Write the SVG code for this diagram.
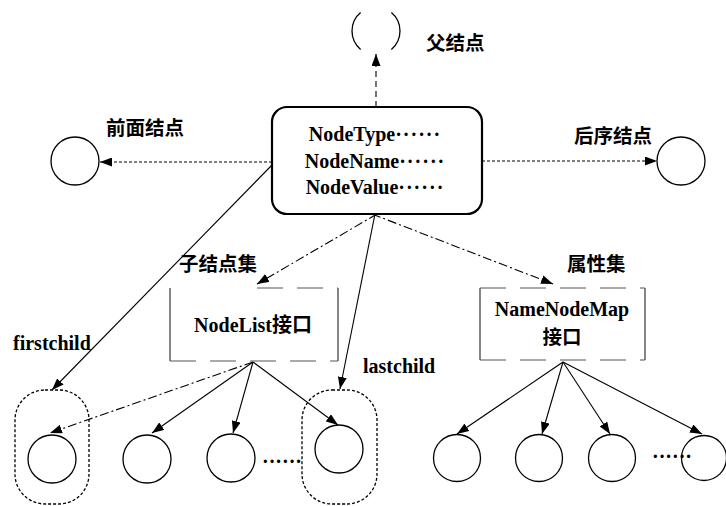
<svg xmlns="http://www.w3.org/2000/svg" width="726" height="506" viewBox="0 0 726 506">
  <style>
    .lat { font-family: "Liberation Serif", "Noto Sans CJK SC", serif; font-weight: bold; font-size: 20px; fill: #000; }
    .cjk { font-family: "Noto Sans CJK SC", "Liberation Sans", sans-serif; font-weight: bold; font-size: 19.5px; fill: #000; }
    .node { fill: none; stroke: #000; stroke-width: 1.3; }
    .box { fill: #fff; stroke: #000; stroke-width: 2.2; }
    .side { stroke: #222; stroke-width: 1.1; }
    .edge { stroke: #555; stroke-width: 1; stroke-dasharray: 26 14; }
    .cap { fill: none; stroke: #000; stroke-width: 1.3; stroke-dasharray: 3 2; }
    .link { fill: none; stroke: #000; stroke-width: 1.1; marker-end: url(#arrow); }
    .dot { stroke-dasharray: 3 2; }
    .dash { stroke-dasharray: 6 4; }
    .dashdot { stroke-dasharray: 9 3 2 3; }
  </style>
  <defs>
    <marker id="arrow" markerUnits="userSpaceOnUse" markerWidth="12" markerHeight="9" refX="12" refY="4.5" orient="auto">
      <path d="M0,0 L12,4.5 L0,9 z" fill="#000"/>
    </marker>
  </defs>
  <rect width="726" height="506" fill="#fff"/>

  <!-- connectors -->
  <g id="connectors">
    <line class="link dash" x1="376" y1="107" x2="376" y2="54"/>
    <line class="link dot" x1="272" y1="162" x2="100" y2="162"/>
    <line class="link dot" x1="482" y1="161" x2="657" y2="161"/>
    <line class="link" x1="272" y1="165" x2="52" y2="390"/>
    <line class="link dashdot" x1="377" y1="214" x2="257" y2="284"/>
    <line class="link" x1="375" y1="214" x2="340" y2="389"/>
    <line class="link dashdot" x1="372" y1="214" x2="553" y2="284"/>
    <line class="link dashdot" x1="253" y1="362" x2="50" y2="433"/>
    <line class="link" x1="253" y1="362" x2="152" y2="433"/>
    <line class="link" x1="253" y1="362" x2="233" y2="433"/>
    <line class="link" x1="253" y1="362" x2="338" y2="425"/>
    <line class="link" x1="563" y1="362" x2="457" y2="434"/>
    <line class="link" x1="563" y1="362" x2="542" y2="434"/>
    <line class="link" x1="563" y1="362" x2="610" y2="434"/>
    <line class="link" x1="563" y1="362" x2="702" y2="434"/>
  </g>

  <!-- parent node -->
  <g id="parent">
    <path class="node" d="M360.6,12.6 A24,24 0 0 0 360.6,49.4 M391.4,12.6 A24,24 0 0 1 391.4,49.4"/>
    <text class="cjk" x="426" y="50">父结点</text>
  </g>

  <!-- previous sibling -->
  <g id="previous">
    <circle class="node" cx="75" cy="161" r="24"/>
    <text class="cjk" x="106" y="135">前面结点</text>
  </g>

  <!-- next sibling -->
  <g id="next">
    <circle class="node" cx="681" cy="161" r="24"/>
    <text class="cjk" x="574" y="143">后序结点</text>
  </g>

  <!-- current node -->
  <g id="current">
    <rect class="box" x="272" y="107" width="210" height="107" rx="15"/>
    <text class="lat" x="375" y="141" text-anchor="middle">NodeType<tspan letter-spacing="1">······</tspan></text>
    <text class="lat" x="375" y="168" text-anchor="middle">NodeName<tspan letter-spacing="1">······</tspan></text>
    <text class="lat" x="375" y="194" text-anchor="middle">NodeValue<tspan letter-spacing="1">······</tspan></text>
  </g>

  <!-- child list -->
  <g id="nodelist">
    <text class="cjk" x="179" y="271">子结点集</text>
    <line class="side" x1="170" y1="288" x2="170" y2="361"/>
    <line class="side" x1="338" y1="288" x2="338" y2="361"/>
    <line class="edge" x1="257" y1="288" x2="338" y2="288"/>
    <line class="edge" x1="170" y1="361" x2="338" y2="361"/>
    <text class="lat" x="253" y="332" text-anchor="middle">NodeList接口</text>
  </g>

  <!-- attribute map -->
  <g id="namednodemap">
    <text class="cjk" x="567" y="271">属性集</text>
    <line class="side" x1="480" y1="288" x2="480" y2="360"/>
    <line class="side" x1="645" y1="288" x2="645" y2="360"/>
    <line class="edge" x1="480" y1="288" x2="645" y2="288"/>
    <line class="edge" x1="480" y1="360" x2="645" y2="360"/>
    <text class="lat" x="562" y="316" text-anchor="middle">NameNodeMap</text>
    <text class="cjk" x="562" y="344" text-anchor="middle">接口</text>
  </g>

  <!-- child nodes -->
  <g id="firstchild">
    <text class="lat" x="13" y="350">firstchild</text>
    <rect class="cap" x="15" y="390" width="74" height="114" rx="30"/>
    <circle class="node" cx="52" cy="459" r="24"/>
  </g>
  <g id="child2">
    <circle class="node" cx="147" cy="459" r="24"/>
  </g>
  <g id="child3">
    <circle class="node" cx="231" cy="458" r="24"/>
    <text class="lat" x="262" y="468">······</text>
  </g>
  <g id="lastchild">
    <text class="lat" x="363" y="373">lastchild</text>
    <rect class="cap" x="302" y="390" width="75" height="114" rx="30"/>
    <circle class="node" cx="339" cy="449" r="24"/>
  </g>

  <!-- attribute nodes -->
  <g id="attr1">
    <circle class="node" cx="457" cy="458" r="23.5"/>
  </g>
  <g id="attr2">
    <circle class="node" cx="539" cy="458" r="23.5"/>
  </g>
  <g id="attr3">
    <circle class="node" cx="612" cy="458" r="23.5"/>
    <text class="lat" x="652" y="463">······</text>
  </g>
  <g id="attr4">
    <circle class="node" cx="704" cy="458" r="22.5"/>
  </g>
</svg>
